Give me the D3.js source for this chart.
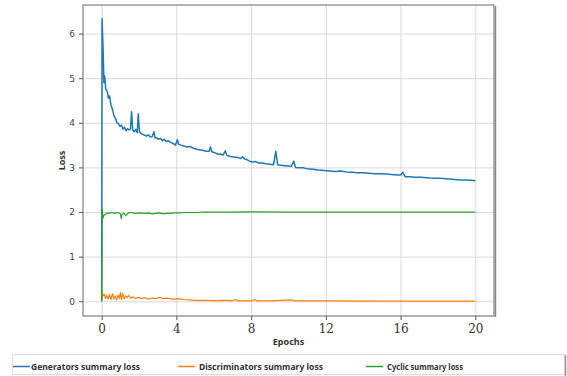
<!DOCTYPE html>
<html>
<head>
<meta charset="utf-8">
<script src="https://cdn.jsdelivr.net/npm/d3@7"></script>
<style>
  body { margin: 0; background: #fff; }
  .grid line { stroke: #d9d9d9; stroke-width: 1; }
  .grid path { display: none; }
</style>
</head>
<body>
<div id="chart"></div>
<script>
// series: [epoch, loss]
var genLoss = [
    [0, 0.0], [0.02, 6.33], [0.08, 5.6], [0.12, 4.9], [0.16, 5.05], [0.22, 4.75], [0.3, 4.7], [0.36, 4.55],
    [0.42, 4.6], [0.5, 4.4], [0.58, 4.3], [0.66, 4.15], [0.74, 4.1], [0.82, 4.0], [0.9, 3.98], [0.98, 3.92],
    [1.06, 3.95], [1.14, 3.86], [1.22, 3.9], [1.3, 3.82], [1.38, 3.87], [1.46, 3.84], [1.54, 3.86], [1.6, 4.25],
    [1.66, 3.84], [1.74, 3.8], [1.82, 3.85], [1.9, 3.78], [1.96, 4.2], [2.02, 3.8], [2.1, 3.76], [2.2, 3.74],
    [2.3, 3.72], [2.4, 3.7], [2.5, 3.73], [2.6, 3.68], [2.7, 3.69], [2.8, 3.8], [2.86, 3.66], [2.95, 3.66],
    [3.05, 3.63], [3.15, 3.65], [3.25, 3.6], [3.35, 3.63], [3.45, 3.58], [3.55, 3.6], [3.65, 3.57], [3.75, 3.55],
    [3.85, 3.53], [3.95, 3.5], [4.05, 3.62], [4.12, 3.52], [4.25, 3.5], [4.4, 3.48], [4.55, 3.46], [4.7, 3.47],
    [4.85, 3.44], [5.0, 3.42], [5.15, 3.4], [5.3, 3.39], [5.45, 3.38], [5.6, 3.36], [5.75, 3.36], [5.82, 3.46],
    [5.9, 3.35], [6.05, 3.33], [6.2, 3.3], [6.35, 3.3], [6.5, 3.28], [6.62, 3.37], [6.7, 3.27], [6.85, 3.25],
    [7.0, 3.24], [7.15, 3.23], [7.3, 3.22], [7.45, 3.2], [7.55, 3.24], [7.65, 3.19], [7.8, 3.17], [7.95, 3.13],
    [8.1, 3.12], [8.25, 3.13], [8.4, 3.1], [8.6, 3.1], [8.8, 3.08], [9.0, 3.07], [9.2, 3.06], [9.32, 3.36],
    [9.42, 3.06], [9.6, 3.05], [9.8, 3.04], [10.0, 3.03], [10.15, 3.02], [10.28, 3.14], [10.38, 3.0], [10.6, 2.99],
    [10.8, 2.99], [11.0, 2.97], [11.3, 2.96], [11.6, 2.94], [11.9, 2.93], [12.2, 2.92], [12.5, 2.91], [12.8, 2.92],
    [13.1, 2.9], [13.4, 2.89], [13.7, 2.88], [14.0, 2.88], [14.3, 2.87], [14.6, 2.86], [14.9, 2.86], [15.2, 2.85],
    [15.5, 2.84], [15.8, 2.83], [16.0, 2.83], [16.12, 2.89], [16.25, 2.79], [16.5, 2.79], [16.8, 2.78], [17.1, 2.78],
    [17.4, 2.77], [17.7, 2.76], [18.0, 2.76], [18.3, 2.75], [18.6, 2.74], [18.9, 2.73], [19.2, 2.72], [19.5, 2.72],
    [19.8, 2.71], [20.0, 2.7]
];

var discLoss = [
    [0, 0.0], [0.03, 0.22], [0.08, 0.12], [0.15, 0.16], [0.2, 0.06], [0.28, 0.13], [0.35, 0.05], [0.42, 0.15],
    [0.5, 0.04], [0.58, 0.17], [0.65, 0.05], [0.72, 0.12], [0.8, 0.03], [0.88, 0.14], [0.95, 0.06], [1.0, 0.2],
    [1.06, 0.04], [1.12, 0.18], [1.2, 0.05], [1.28, 0.12], [1.36, 0.08], [1.45, 0.13], [1.55, 0.07], [1.65, 0.1],
    [1.8, 0.06], [1.95, 0.09], [2.1, 0.06], [2.3, 0.08], [2.5, 0.05], [2.7, 0.07], [2.9, 0.06], [3.1, 0.09],
    [3.3, 0.06], [3.5, 0.07], [3.8, 0.05], [4.1, 0.06], [4.4, 0.04], [4.7, 0.03], [5.0, 0.02], [5.5, 0.02],
    [6.0, 0.015], [6.5, 0.02], [7.0, 0.015], [7.2, 0.04], [7.3, 0.01], [8.0, 0.01], [8.2, 0.04], [8.3, 0.01],
    [9.0, 0.01], [10.2, 0.03], [10.3, 0.01], [12.0, 0.01], [16.0, 0.005], [20.0, 0.005]
];

var cycLoss = [
    [0, 0.0], [0.03, 2.07], [0.07, 1.86], [0.12, 1.93], [0.2, 1.95], [0.3, 1.98], [0.4, 1.97], [0.5, 1.99],
    [0.6, 1.98], [0.7, 1.97], [0.8, 1.99], [0.9, 1.98], [1.0, 1.96], [1.05, 1.85], [1.1, 1.95], [1.2, 1.97],
    [1.3, 1.92], [1.4, 1.97], [1.5, 1.99], [1.7, 1.98], [1.9, 1.97], [2.1, 1.98], [2.3, 1.97], [2.5, 1.98],
    [2.7, 1.96], [2.9, 1.97], [3.1, 1.98], [3.3, 1.96], [3.5, 1.97], [3.7, 1.97], [3.9, 1.98], [4.2, 1.98],
    [4.5, 1.99], [5.0, 1.99], [5.5, 2.0], [6.0, 2.0], [7.0, 2.0], [8.0, 2.005], [10.0, 2.0], [12.0, 2.0],
    [14.0, 2.0], [16.0, 2.0], [18.0, 2.0], [20.0, 2.0]
];

var seriesNames = ["Generators summary loss", "Discriminators summary loss", "Cyclic summary loss"];
var seriesColors = ["#1f77b4", "#ff7f0e", "#2ca02c"];
var xTicks = [0, 4, 8, 12, 16, 20];
var yTicks = [0, 1, 2, 3, 4, 5, 6];

var svgWidth = 567;
var svgHeight = 376;

var margin = { top: 5, right: 73, bottom: 60, left: 83 };
var width = svgWidth - margin.left - margin.right;
var height = svgHeight - margin.top - margin.bottom;

var svg = d3.select("#chart")
    .append("svg")
    .attr("width", svgWidth)
    .attr("height", svgHeight);

var chart = svg.append("g")
    .attr("transform", `translate(${margin.left}, ${margin.top})`);

var xscale = d3.scaleLinear()
    .domain([-1, 21])
    .range([0, width]);

var yscale = d3.scaleLinear()
    .domain([-0.33, 6.64])
    .range([height, 0]);

// grid
chart.append("g")
    .attr("class", "grid")
    .attr("transform", `translate(0, ${height})`)
    .call(d3.axisBottom(xscale).tickValues(xTicks).tickSize(-height).tickFormat(""));

chart.append("g")
    .attr("class", "grid")
    .call(d3.axisLeft(yscale).tickValues(yTicks).tickSize(-width).tickFormat(""));

// lines
var line = d3.line()
    .x(d => xscale(d[0]))
    .y(d => yscale(d[1]));

var allSeries = [genLoss, discLoss, cycLoss];

chart.selectAll(".series")
    .data(allSeries)
    .enter()
    .append("path")
    .attr("class", "series")
    .attr("d", line)
    .attr("fill", "none")
    .attr("stroke", (d, i) => seriesColors[i])
    .attr("stroke-width", (d, i) => i == 0 ? 1.5 : 1.2)
    .attr("stroke-linejoin", "round");

// axes
var xAxis = chart.append("g")
    .attr("transform", `translate(0, ${height})`)
    .call(d3.axisBottom(xscale).tickValues(xTicks).tickFormat(d3.format("d")).tickSize(4).tickPadding(4));
xAxis.select(".domain").remove();
xAxis.selectAll("line").attr("stroke", "#555");
xAxis.selectAll("text")
    .style("font", "12px 'DejaVu Serif', serif")
    .attr("fill", "#333");

var yAxis = chart.append("g")
    .call(d3.axisLeft(yscale).tickValues(yTicks).tickFormat(d3.format("d")).tickSize(4).tickPadding(4));
yAxis.select(".domain").remove();
yAxis.selectAll("line").attr("stroke", "#555");
yAxis.selectAll("text")
    .style("font", "9px 'DejaVu Sans', sans-serif")
    .attr("fill", "#444");

// frame
chart.append("rect")
    .attr("x", 0)
    .attr("y", 0)
    .attr("width", width)
    .attr("height", height)
    .attr("fill", "none")
    .attr("stroke", "#666")
    .attr("stroke-width", 1);

chart.append("line")
    .attr("x1", width + 1.5).attr("x2", width + 1.5)
    .attr("y1", 1).attr("y2", height + 1)
    .attr("stroke", "#888")
    .attr("stroke-width", 1.5);

// axis labels
chart.append("text")
    .attr("transform", "rotate(-90)")
    .attr("x", 0 - (height / 2))
    .attr("y", -18)
    .attr("text-anchor", "middle")
    .style("font", "bold 9px 'Noto Sans', sans-serif")
    .attr("fill", "#333")
    .text("Loss");

chart.append("text")
    .attr("x", xscale(10))
    .attr("y", height + 29)
    .attr("text-anchor", "middle")
    .style("font", "bold 9px 'Noto Sans', sans-serif")
    .attr("fill", "#333")
    .text("Epochs");

// legend
var legend = svg.append("g");

legend.append("rect")
    .attr("x", 12.5)
    .attr("y", 354.5)
    .attr("width", 552)
    .attr("height", 20)
    .attr("fill", "#fff")
    .attr("stroke", "#ddd");

legend.append("line")
    .attr("x1", 565.5).attr("x2", 565.5)
    .attr("y1", 355).attr("y2", 376)
    .attr("stroke", "#999")
    .attr("stroke-width", 1.5);

var legendX = [13, 178, 366];
var legendW = [109, 124, 76];

var items = legend.selectAll(".item")
    .data(seriesNames)
    .enter()
    .append("g")
    .attr("class", "item")
    .attr("transform", (d, i) => `translate(${legendX[i]}, 367)`);

items.append("line")
    .attr("x1", 0).attr("x2", 17)
    .attr("y1", -0.5).attr("y2", -0.5)
    .attr("stroke", (d, i) => seriesColors[i])
    .attr("stroke-width", 1.5);

items.append("text")
    .attr("x", (d, i) => i == 0 ? 18 : 21)
    .attr("y", 3)
    .attr("textLength", (d, i) => legendW[i])
    .attr("lengthAdjust", "spacingAndGlyphs")
    .style("font", "bold 9px 'Noto Sans', sans-serif")
    .attr("fill", "#333")
    .text(d => d);
</script>
</body>
</html>
